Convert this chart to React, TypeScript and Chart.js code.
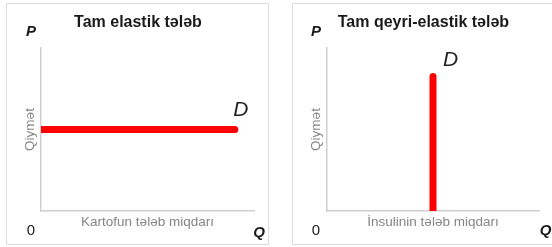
import React, { useEffect, useRef } from "react";
import { Chart, registerables } from "chart.js";

Chart.register(...registerables);

const FONT = "'Liberation Sans', Arial, Helvetica, sans-serif";

// ---- Texts ----
const elasticTitle = "Tam elastik tələb";
const inelasticTitle = "Tam qeyri-elastik tələb";
const priceAxisLabel = "Qiymət";
const elasticQtyLabel = "Kartofun tələb miqdarı";
const inelasticQtyLabel = "İnsulinin tələb miqdarı";
const curveLabel = "D";
const priceSymbol = "P";
const quantitySymbol = "Q";
const originLabel = "0";

// ---- Data ----
const axisMin = 0;
const axisMax = 10;
const elasticQuantity = [0, 9.1];
const elasticPrice = [5, 5];
const inelasticQuantity = [5, 5];
const inelasticPrice = [0, 8.25];

type PanelCfg = {
  title: string;
  xLabel: string;
  q: number[];
  p: number[];
  pad: { left: number; right: number; top: number; bottom: number };
  marks: {
    pDx: number; pDy: number;
    qDx: number; qDy: number;
    zDx: number; zDy: number;
    dIndex: number; dDx: number; dDy: number;
  };
};

const markersPlugin = {
  id: "econMarkers",
  afterDraw(chart: any, _args: any, opts: any) {
    const { ctx, chartArea: a, scales } = chart;
    const m = opts.marks;
    ctx.save();
    ctx.textAlign = "center";
    ctx.textBaseline = "middle";
    ctx.fillStyle = "#1a1a1a";
    ctx.font = `italic bold 15px ${FONT}`;
    ctx.fillText(priceSymbol, a.left + m.pDx, a.top + m.pDy);
    ctx.fillText(quantitySymbol, a.right + m.qDx, a.bottom + m.qDy);
    ctx.font = `15px ${FONT}`;
    ctx.fillText(originLabel, a.left + m.zDx, a.bottom + m.zDy);
    const q = opts.q[m.dIndex];
    const p = opts.p[m.dIndex];
    const x = scales.x.getPixelForValue(q);
    const y = scales.y.getPixelForValue(p);
    ctx.fillStyle = "#222";
    ctx.font = `italic 21px ${FONT}`;
    ctx.fillText(curveLabel, x + m.dDx, y + m.dDy);
    ctx.restore();
  },
};

function Panel({ cfg, left }: { cfg: PanelCfg; left: number }) {
  const ref = useRef<HTMLCanvasElement | null>(null);
  useEffect(() => {
    if (!ref.current) return;
    const data = cfg.q.map((q, i) => ({ x: q, y: cfg.p[i] }));
    const axisColor = "#cfcfcf";
    const chart = new Chart(ref.current, {
      type: "line",
      data: {
        datasets: [
          {
            data,
            borderColor: "#ff0000",
            borderWidth: 7,
            borderCapStyle: "round",
            pointRadius: 0,
            pointBorderWidth: 0,
            fill: false,
            clip: 0,
          } as any,
        ],
      },
      options: {
        animation: false,
        responsive: false,
        devicePixelRatio: 1,
        layout: { padding: cfg.pad, autoPadding: false } as any,
        plugins: {
          legend: { display: false },
          tooltip: { enabled: false },
          title: {
            display: true,
            text: cfg.title,
            color: "#1a1a1a",
            font: { family: FONT, size: 16, weight: "bold", lineHeight: 1.2 },
            padding: { top: 12.9, bottom: 15.9 },
          },
          econMarkers: { marks: cfg.marks, q: cfg.q, p: cfg.p },
        } as any,
        scales: {
          x: {
            type: "linear",
            min: axisMin,
            max: axisMax,
            ticks: { display: false },
            grid: { display: false, drawTicks: false },
            border: { display: true, color: axisColor, width: 1.5 },
            title: {
              display: true,
              text: cfg.xLabel,
              color: "#858585",
              font: { family: FONT, size: 13.5, lineHeight: 1.2 },
              padding: { top: 2.9, bottom: 0 },
            },
          },
          y: {
            type: "linear",
            min: axisMin,
            max: axisMax,
            ticks: { display: false },
            grid: { display: false, drawTicks: false },
            border: { display: true, color: axisColor, width: 1.5 },
            title: {
              display: true,
              text: priceAxisLabel,
              color: "#858585",
              font: { family: FONT, size: 13.5, lineHeight: 1.2 },
              padding: { top: 0, bottom: 2.9 },
            },
          },
        },
      },
      plugins: [markersPlugin as any],
    });
    return () => chart.destroy();
  }, [cfg]);
  return (
    <canvas
      ref={ref}
      width={276}
      height={247}
      style={{ position: "absolute", left, top: 0, width: 276, height: 247 }}
    />
  );
}

const elasticCfg: PanelCfg = {
  title: elasticTitle,
  xLabel: elasticQtyLabel,
  q: elasticQuantity,
  p: elasticPrice,
  pad: { left: 21.9, right: 22, top: 0, bottom: 16.9 },
  marks: { pDx: -10, pDy: -16, qDx: 5, qDy: 21.5, zDx: -10, zDy: 20, dIndex: 1, dDx: 6, dDy: -19 },
};

const inelasticCfg: PanelCfg = {
  title: inelasticTitle,
  xLabel: inelasticQtyLabel,
  q: inelasticQuantity,
  p: inelasticPrice,
  pad: { left: 31.9, right: 13, top: 0, bottom: 16.9 },
  marks: { pDx: -11, pDy: -16, qDx: 6.5, qDy: 20, zDx: -11, zDy: 20, dIndex: 1, dDx: 17.5, dDy: -16.5 },
};

export default function App() {
  return (
    <div
      style={{
        position: "absolute",
        left: 0,
        top: 0,
        width: 552,
        height: 247,
        overflow: "hidden",
        background: "#fff",
      }}
    >
      <div
        style={{
          position: "absolute",
          left: 6,
          top: 3,
          width: 261,
          height: 240,
          border: "1px solid #dcdcdc",
        }}
      />
      <div
        style={{
          position: "absolute",
          left: 292,
          top: 3,
          width: 262,
          height: 240,
          border: "1px solid #dcdcdc",
        }}
      />
      <Panel cfg={elasticCfg} left={0} />
      <Panel cfg={inelasticCfg} left={276} />
    </div>
  );
}
